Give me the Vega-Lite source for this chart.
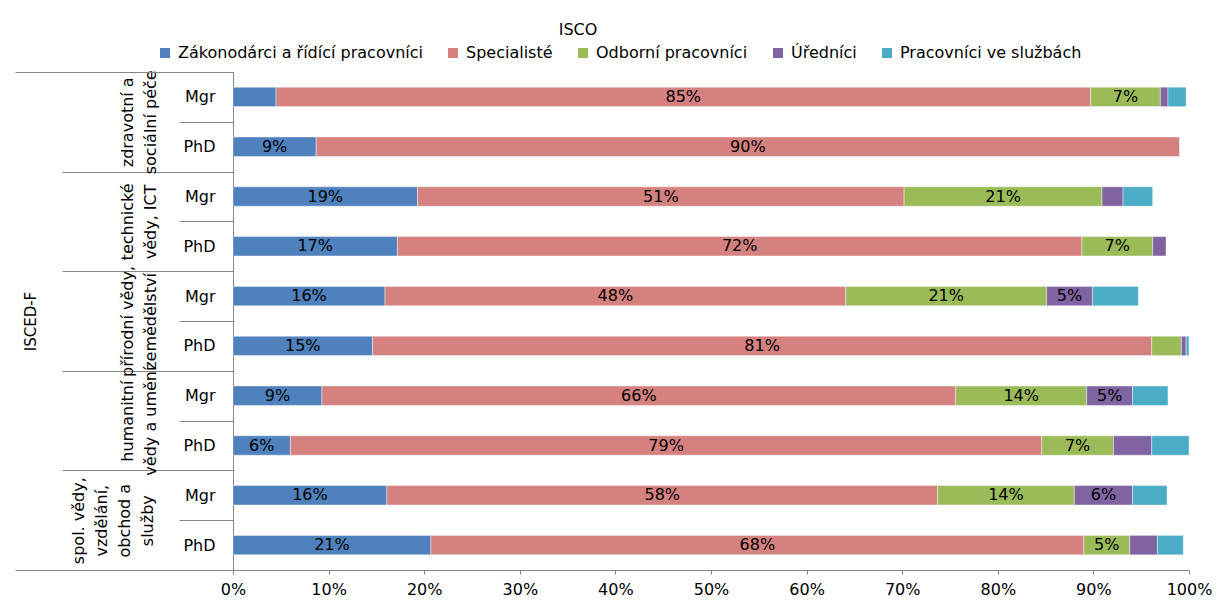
{
  "$schema": "https://vega.github.io/schema/vega-lite/v6.json",
  "width": 956,
  "height": 498,
  "autosize": {"type": "none"},
  "padding": {"left": 233, "top": 72, "right": 39, "bottom": 32},
  "title": {"text": "ISCO", "anchor": "middle", "dx": -133, "offset": 7, "fontSize": 16, "fontWeight": "normal", "color": "#000000", "font": "DejaVu Sans"},
  "data": {
    "values": [
      {"obor": "zdravotní a sociální péče", "radek": "zdravotní a sociální péče / Mgr", "isco": "Zákonodárci a řídící pracovníci", "ci": 0, "podil": 4.5, "popisek": ""},
      {"obor": "zdravotní a sociální péče", "radek": "zdravotní a sociální péče / Mgr", "isco": "Specialisté", "ci": 1, "podil": 85.2, "popisek": "85%"},
      {"obor": "zdravotní a sociální péče", "radek": "zdravotní a sociální péče / Mgr", "isco": "Odborní pracovníci", "ci": 2, "podil": 7.3, "popisek": "7%"},
      {"obor": "zdravotní a sociální péče", "radek": "zdravotní a sociální péče / Mgr", "isco": "Úředníci", "ci": 3, "podil": 0.8, "popisek": ""},
      {"obor": "zdravotní a sociální péče", "radek": "zdravotní a sociální péče / Mgr", "isco": "Pracovníci ve službách", "ci": 4, "podil": 1.9, "popisek": ""},
      {"obor": "zdravotní a sociální péče", "radek": "zdravotní a sociální péče / PhD", "isco": "Zákonodárci a řídící pracovníci", "ci": 0, "podil": 8.7, "popisek": "9%"},
      {"obor": "zdravotní a sociální péče", "radek": "zdravotní a sociální péče / PhD", "isco": "Specialisté", "ci": 1, "podil": 90.3, "popisek": "90%"},
      {"obor": "technické vědy, ICT", "radek": "technické vědy, ICT / Mgr", "isco": "Zákonodárci a řídící pracovníci", "ci": 0, "podil": 19.3, "popisek": "19%"},
      {"obor": "technické vědy, ICT", "radek": "technické vědy, ICT / Mgr", "isco": "Specialisté", "ci": 1, "podil": 50.9, "popisek": "51%"},
      {"obor": "technické vědy, ICT", "radek": "technické vědy, ICT / Mgr", "isco": "Odborní pracovníci", "ci": 2, "podil": 20.7, "popisek": "21%"},
      {"obor": "technické vědy, ICT", "radek": "technické vědy, ICT / Mgr", "isco": "Úředníci", "ci": 3, "podil": 2.2, "popisek": ""},
      {"obor": "technické vědy, ICT", "radek": "technické vědy, ICT / Mgr", "isco": "Pracovníci ve službách", "ci": 4, "podil": 3.1, "popisek": ""},
      {"obor": "technické vědy, ICT", "radek": "technické vědy, ICT / PhD", "isco": "Zákonodárci a řídící pracovníci", "ci": 0, "podil": 17.2, "popisek": "17%"},
      {"obor": "technické vědy, ICT", "radek": "technické vědy, ICT / PhD", "isco": "Specialisté", "ci": 1, "podil": 71.6, "popisek": "72%"},
      {"obor": "technické vědy, ICT", "radek": "technické vědy, ICT / PhD", "isco": "Odborní pracovníci", "ci": 2, "podil": 7.4, "popisek": "7%"},
      {"obor": "technické vědy, ICT", "radek": "technické vědy, ICT / PhD", "isco": "Úředníci", "ci": 3, "podil": 1.4, "popisek": ""},
      {"obor": "přírodní vědy, zemědělství", "radek": "přírodní vědy, zemědělství / Mgr", "isco": "Zákonodárci a řídící pracovníci", "ci": 0, "podil": 15.9, "popisek": "16%"},
      {"obor": "přírodní vědy, zemědělství", "radek": "přírodní vědy, zemědělství / Mgr", "isco": "Specialisté", "ci": 1, "podil": 48.2, "popisek": "48%"},
      {"obor": "přírodní vědy, zemědělství", "radek": "přírodní vědy, zemědělství / Mgr", "isco": "Odborní pracovníci", "ci": 2, "podil": 21.0, "popisek": "21%"},
      {"obor": "přírodní vědy, zemědělství", "radek": "přírodní vědy, zemědělství / Mgr", "isco": "Úředníci", "ci": 3, "podil": 4.8, "popisek": "5%"},
      {"obor": "přírodní vědy, zemědělství", "radek": "přírodní vědy, zemědělství / Mgr", "isco": "Pracovníci ve službách", "ci": 4, "podil": 4.8, "popisek": ""},
      {"obor": "přírodní vědy, zemědělství", "radek": "přírodní vědy, zemědělství / PhD", "isco": "Zákonodárci a řídící pracovníci", "ci": 0, "podil": 14.6, "popisek": "15%"},
      {"obor": "přírodní vědy, zemědělství", "radek": "přírodní vědy, zemědělství / PhD", "isco": "Specialisté", "ci": 1, "podil": 81.5, "popisek": "81%"},
      {"obor": "přírodní vědy, zemědělství", "radek": "přírodní vědy, zemědělství / PhD", "isco": "Odborní pracovníci", "ci": 2, "podil": 3.1, "popisek": ""},
      {"obor": "přírodní vědy, zemědělství", "radek": "přírodní vědy, zemědělství / PhD", "isco": "Úředníci", "ci": 3, "podil": 0.5, "popisek": ""},
      {"obor": "přírodní vědy, zemědělství", "radek": "přírodní vědy, zemědělství / PhD", "isco": "Pracovníci ve službách", "ci": 4, "podil": 0.3, "popisek": ""},
      {"obor": "humanitní vědy a umění", "radek": "humanitní vědy a umění / Mgr", "isco": "Zákonodárci a řídící pracovníci", "ci": 0, "podil": 9.3, "popisek": "9%"},
      {"obor": "humanitní vědy a umění", "radek": "humanitní vědy a umění / Mgr", "isco": "Specialisté", "ci": 1, "podil": 66.3, "popisek": "66%"},
      {"obor": "humanitní vědy a umění", "radek": "humanitní vědy a umění / Mgr", "isco": "Odborní pracovníci", "ci": 2, "podil": 13.7, "popisek": "14%"},
      {"obor": "humanitní vědy a umění", "radek": "humanitní vědy a umění / Mgr", "isco": "Úředníci", "ci": 3, "podil": 4.8, "popisek": "5%"},
      {"obor": "humanitní vědy a umění", "radek": "humanitní vědy a umění / Mgr", "isco": "Pracovníci ve službách", "ci": 4, "podil": 3.7, "popisek": ""},
      {"obor": "humanitní vědy a umění", "radek": "humanitní vědy a umění / PhD", "isco": "Zákonodárci a řídící pracovníci", "ci": 0, "podil": 6.0, "popisek": "6%"},
      {"obor": "humanitní vědy a umění", "radek": "humanitní vědy a umění / PhD", "isco": "Specialisté", "ci": 1, "podil": 78.6, "popisek": "79%"},
      {"obor": "humanitní vědy a umění", "radek": "humanitní vědy a umění / PhD", "isco": "Odborní pracovníci", "ci": 2, "podil": 7.5, "popisek": "7%"},
      {"obor": "humanitní vědy a umění", "radek": "humanitní vědy a umění / PhD", "isco": "Úředníci", "ci": 3, "podil": 4.0, "popisek": ""},
      {"obor": "humanitní vědy a umění", "radek": "humanitní vědy a umění / PhD", "isco": "Pracovníci ve službách", "ci": 4, "podil": 3.9, "popisek": ""},
      {"obor": "spol. vědy, vzdělání, obchod a služby", "radek": "spol. vědy, vzdělání, obchod a služby / Mgr", "isco": "Zákonodárci a řídící pracovníci", "ci": 0, "podil": 16.1, "popisek": "16%"},
      {"obor": "spol. vědy, vzdělání, obchod a služby", "radek": "spol. vědy, vzdělání, obchod a služby / Mgr", "isco": "Specialisté", "ci": 1, "podil": 57.6, "popisek": "58%"},
      {"obor": "spol. vědy, vzdělání, obchod a služby", "radek": "spol. vědy, vzdělání, obchod a služby / Mgr", "isco": "Odborní pracovníci", "ci": 2, "podil": 14.3, "popisek": "14%"},
      {"obor": "spol. vědy, vzdělání, obchod a služby", "radek": "spol. vědy, vzdělání, obchod a služby / Mgr", "isco": "Úředníci", "ci": 3, "podil": 6.1, "popisek": "6%"},
      {"obor": "spol. vědy, vzdělání, obchod a služby", "radek": "spol. vědy, vzdělání, obchod a služby / Mgr", "isco": "Pracovníci ve službách", "ci": 4, "podil": 3.6, "popisek": ""},
      {"obor": "spol. vědy, vzdělání, obchod a služby", "radek": "spol. vědy, vzdělání, obchod a služby / PhD", "isco": "Zákonodárci a řídící pracovníci", "ci": 0, "podil": 20.7, "popisek": "21%"},
      {"obor": "spol. vědy, vzdělání, obchod a služby", "radek": "spol. vědy, vzdělání, obchod a služby / PhD", "isco": "Specialisté", "ci": 1, "podil": 68.3, "popisek": "68%"},
      {"obor": "spol. vědy, vzdělání, obchod a služby", "radek": "spol. vědy, vzdělání, obchod a služby / PhD", "isco": "Odborní pracovníci", "ci": 2, "podil": 4.8, "popisek": "5%"},
      {"obor": "spol. vědy, vzdělání, obchod a služby", "radek": "spol. vědy, vzdělání, obchod a služby / PhD", "isco": "Úředníci", "ci": 3, "podil": 2.9, "popisek": ""},
      {"obor": "spol. vědy, vzdělání, obchod a služby", "radek": "spol. vědy, vzdělání, obchod a služby / PhD", "isco": "Pracovníci ve službách", "ci": 4, "podil": 2.7, "popisek": ""}
    ]
  },
  "layer": [
    {
      "layer": [
        {
          "mark": {"type": "bar", "height": {"band": 0.39}, "stroke": "#ffffff", "strokeWidth": 0.6, "strokeOpacity": 0.7},
          "encoding": {
            "y": {
              "field": "radek", "type": "nominal",
              "sort": ["zdravotní a sociální péče / Mgr", "zdravotní a sociální péče / PhD", "technické vědy, ICT / Mgr", "technické vědy, ICT / PhD", "přírodní vědy, zemědělství / Mgr", "přírodní vědy, zemědělství / PhD", "humanitní vědy a umění / Mgr", "humanitní vědy a umění / PhD", "spol. vědy, vzdělání, obchod a služby / Mgr", "spol. vědy, vzdělání, obchod a služby / PhD"],
              "scale": {"type": "band", "paddingInner": 0, "paddingOuter": 0},
              "axis": {"orient": "left", "title": null, "labelExpr": "datum.label ? split(datum.label, ' / ')[1] : ''", "tickBand": "extent", "tickSize": 54, "labelPadding": -36, "labelAlign": "right", "domain": true, "domainColor": "#868686", "tickColor": "#868686", "labelFontSize": 16, "labelColor": "#000000", "labelFont": "DejaVu Sans"}
            },
            "x": {
              "field": "podil", "type": "quantitative", "stack": "zero",
              "scale": {"domain": [0, 100]},
              "axis": {"title": null, "values": [0, 10, 20, 30, 40, 50, 60, 70, 80, 90, 100], "labelExpr": "datum.value + '%'", "grid": false, "tickSize": 4, "labelPadding": 7, "domainColor": "#868686", "tickColor": "#868686", "labelFontSize": 16, "labelColor": "#000000", "labelFlush": false, "labelFont": "DejaVu Sans"}
            },
            "color": {
              "field": "isco", "type": "nominal",
              "scale": {"domain": ["Zákonodárci a řídící pracovníci", "Specialisté", "Odborní pracovníci", "Úředníci", "Pracovníci ve službách"], "range": ["#4F81BD", "#D4817F", "#9BBB59", "#8064A2", "#4BACC6"]},
              "legend": {"title": null, "orient": "none", "legendX": -76, "legendY": -27, "direction": "horizontal", "symbolType": "square", "symbolSize": 100, "symbolStrokeWidth": 0, "labelFontSize": 16, "labelColor": "#000000", "labelFont": "DejaVu Sans", "columnPadding": 22, "labelOffset": 5, "labelLimit": 0}
            },
            "order": {"field": "ci", "type": "quantitative"}
          }
        },
        {
          "mark": {"type": "text", "fontSize": 16, "color": "#000000", "font": "DejaVu Sans"},
          "encoding": {
            "y": {
              "field": "radek", "type": "nominal",
              "sort": ["zdravotní a sociální péče / Mgr", "zdravotní a sociální péče / PhD", "technické vědy, ICT / Mgr", "technické vědy, ICT / PhD", "přírodní vědy, zemědělství / Mgr", "přírodní vědy, zemědělství / PhD", "humanitní vědy a umění / Mgr", "humanitní vědy a umění / PhD", "spol. vědy, vzdělání, obchod a služby / Mgr", "spol. vědy, vzdělání, obchod a služby / PhD"],
              "scale": {"type": "band", "paddingInner": 0, "paddingOuter": 0}
            },
            "x": {"field": "podil", "type": "quantitative", "stack": "zero", "bandPosition": 0.5},
            "text": {"field": "popisek", "type": "nominal"},
            "order": {"field": "ci", "type": "quantitative"}
          }
        }
      ]
    },
    {
      "mark": {"type": "text", "opacity": 0},
      "encoding": {
        "y": {
          "field": "obor", "type": "nominal",
          "sort": ["zdravotní a sociální péče", "technické vědy, ICT", "přírodní vědy, zemědělství", "humanitní vědy a umění", "spol. vědy, vzdělání, obchod a služby"],
          "scale": {"type": "band", "paddingInner": 0, "paddingOuter": 0},
          "axis": {
            "orient": "left",
            "title": "ISCED-F", "titlePadding": 23, "titleFontSize": 15, "titleFontWeight": "normal", "titleColor": "#000000", "titleFont": "DejaVu Sans",
            "domain": false, "tickBand": "extent", "tickSize": 171, "tickColor": "#868686",
            "labelAngle": -90, "labelAlign": "center", "labelBaseline": "bottom",
            "labelPadding": {"condition": {"test": "datum.label == 'spol. vědy, vzdělání, obchod a služby'", "value": -24}, "value": -73},
            "labelLineHeight": 23, "labelFontSize": 16, "labelColor": "#000000", "labelFont": "DejaVu Sans", "labelLimit": 0,
            "labelExpr": "datum.label == 'zdravotní a sociální péče' ? ['zdravotní a', 'sociální péče'] : datum.label == 'technické vědy, ICT' ? ['technické', 'vědy, ICT'] : datum.label == 'přírodní vědy, zemědělství' ? ['přírodní vědy,', 'zemědělství'] : datum.label == 'humanitní vědy a umění' ? ['humanitní', 'vědy a umění'] : datum.label == 'spol. vědy, vzdělání, obchod a služby' ? ['spol. vědy,', 'vzdělání,', 'obchod a', 'služby'] : ''"
          }
        }
      }
    },
    {
      "mark": {"type": "text", "opacity": 0},
      "encoding": {
        "y": {
          "datum": "ISCED-F", "type": "nominal",
          "scale": {"type": "band", "paddingInner": 0, "paddingOuter": 0},
          "axis": {"orient": "left", "title": null, "labels": false, "domain": false, "tickBand": "extent", "tickSize": 218, "tickColor": "#868686"}
        }
      }
    }
  ],
  "resolve": {"scale": {"y": "independent"}, "axis": {"y": "independent"}},
  "config": {
    "font": "DejaVu Sans",
    "view": {"stroke": null},
    "background": "#ffffff"
  }
}
